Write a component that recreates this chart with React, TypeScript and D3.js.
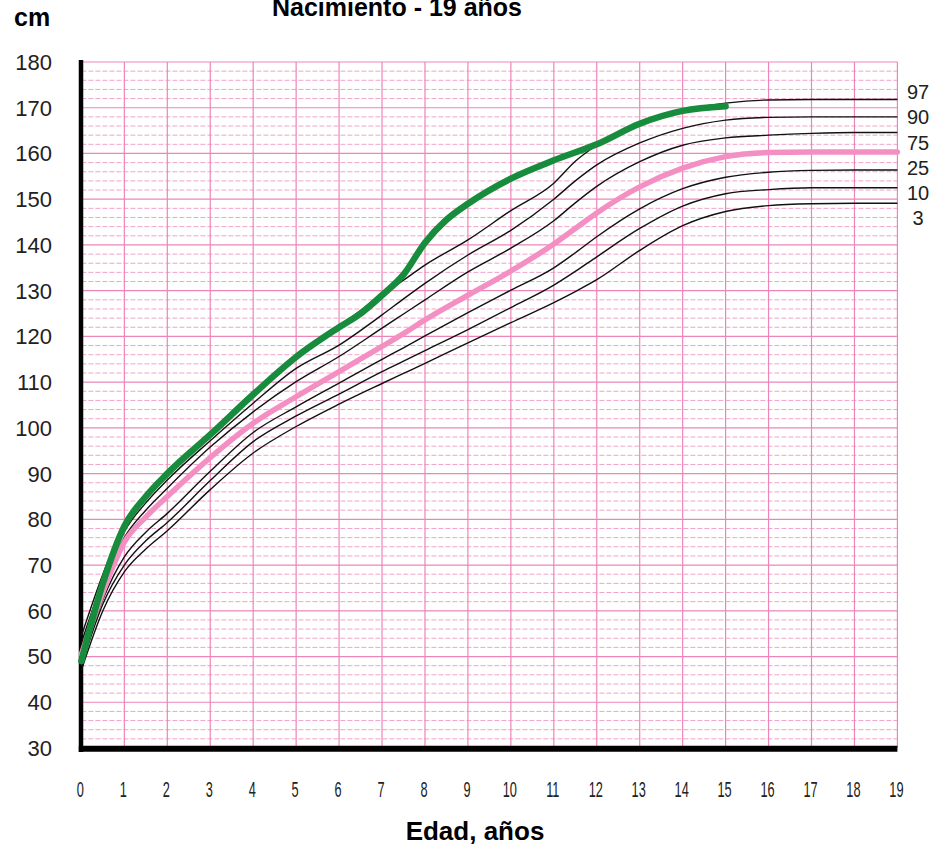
import React, { useEffect, useRef } from 'react';
import * as d3 from 'd3';

// edades (años) usadas por las curvas de percentiles
const AGES = [0, 0.5, 1, 1.5, 2, 3, 4, 5, 6, 7, 7.5, 8, 9, 10, 11, 11.5, 12, 13, 14, 15, 16, 17, 18, 19];

const P3 = [47, 60, 68.5, 73.5, 77.5, 86.5, 94.5, 100.3, 105.2, 109.7, 111.9, 114.1, 118.6, 123, 127.4, 129.8, 132.4, 138.8, 144.2, 147.3, 148.6, 149, 149.1, 149.1];
const P10 = [48, 61.5, 70, 75.3, 79.3, 88.5, 97, 102.6, 107.4, 112.3, 114.6, 116.9, 121.5, 126.3, 131.2, 134.2, 137.4, 143.6, 148.5, 151.2, 152.1, 152.5, 152.5, 152.5];
const P25 = [49, 62.5, 71.8, 77.2, 81.3, 90.5, 99, 104.6, 109.8, 115, 117.5, 120.1, 125.2, 130.1, 135, 138.3, 141.8, 147.9, 152.3, 154.8, 155.9, 156.3, 156.4, 156.4];
const P50 = [50.5, 64, 75, 80.5, 85, 93.5, 101, 106.8, 112.3, 117.8, 120.6, 123.6, 129, 134.3, 140.2, 143.6, 147, 152.7, 156.8, 159.3, 160.2, 160.3, 160.3, 160.3];
const P75 = [52, 65.5, 76, 82, 86.8, 95.8, 103.5, 110.1, 115.6, 121.8, 124.9, 128, 134.1, 139.3, 145.3, 149.2, 152.8, 158.2, 161.8, 163.4, 164, 164.4, 164.6, 164.6];
const P90 = [53, 66.5, 77.3, 83.6, 88.6, 97.2, 105.4, 113, 118.1, 124.7, 128.2, 131.6, 137.8, 143.2, 150, 154, 157.5, 162.3, 165.5, 167.3, 167.9, 168, 168, 168];
const P97 = [54.5, 68, 79, 85.5, 90.5, 99, 107.8, 115.8, 122.3, 129, 132.3, 135.6, 141.1, 147.5, 153.5, 158.3, 161.8, 166.6, 169.5, 171, 171.7, 171.8, 171.8, 171.8];

// curva de la niña
const CHILD_AGES = [0, 0.5, 1, 1.5, 2, 3, 4, 5, 6, 6.5, 7, 7.5, 8, 8.5, 9, 10, 11, 12, 13, 14, 15];
const CHILD_CM = [49, 66, 78.5, 85, 90, 98.5, 107.3, 115.5, 122, 125, 129, 133.5, 140.5, 145.5, 149, 154.5, 158.5, 162, 166.5, 169.3, 170.3];

const LABELS = ['97', '90', '75', '25', '10', '3'];
const X_TICKS = d3.range(0, 20);
const Y_TICKS = d3.range(30, 181, 10);

const W = 933;
const H = 847;
const FONT = "'Liberation Sans', Arial, sans-serif";

const GRID = '#ee85b9';
const GRID_MINOR = '#f2a3ca';
const GREEN = '#178c3c';
const PINK = '#f48fc3';

const App: React.FC = () => {
  const svgRef = useRef<SVGSVGElement>(null);

  useEffect(() => {
    document.body.style.margin = '0';
    if (!svgRef.current) return;
    const svg = d3.select(svgRef.current);
    svg.selectAll('*').remove();

    const x = d3.scaleLinear().domain([0, 19]).range([81.4, 897.4]);
    const y = d3.scaleLinear().domain([30, 180]).range([748, 62]);

    svg.append('rect').attr('width', W).attr('height', H).attr('fill', '#fff');

    // rejilla secundaria, cada 2 cm
    const minor = d3.range(32, 180, 2).filter((v) => v % 10 !== 0);
    svg
      .append('g')
      .selectAll('line')
      .data(minor)
      .join('line')
      .attr('x1', x(0))
      .attr('x2', x(19))
      .attr('y1', (d) => y(d))
      .attr('y2', (d) => y(d))
      .attr('stroke', GRID_MINOR)
      .attr('stroke-width', 1)
      .attr('stroke-dasharray', '5,2');

    // rejilla principal
    svg
      .append('g')
      .selectAll('line')
      .data(Y_TICKS)
      .join('line')
      .attr('x1', x(0))
      .attr('x2', x(19))
      .attr('y1', (d) => y(d))
      .attr('y2', (d) => y(d))
      .attr('stroke', GRID)
      .attr('stroke-width', 1.2);

    svg
      .append('g')
      .selectAll('line')
      .data(X_TICKS.slice(1))
      .join('line')
      .attr('x1', (d) => x(d))
      .attr('x2', (d) => x(d))
      .attr('y1', y(180))
      .attr('y2', y(30))
      .attr('stroke', GRID)
      .attr('stroke-width', 1.2);

    // ejes negros
    svg
      .append('line')
      .attr('x1', x(0) - 0.4)
      .attr('x2', x(0) - 0.4)
      .attr('y1', y(180) - 2)
      .attr('y2', y(30) + 4)
      .attr('stroke', '#000')
      .attr('stroke-width', 4.5);
    svg
      .append('line')
      .attr('x1', x(0) - 2.6)
      .attr('x2', x(19))
      .attr('y1', y(30) + 0.8)
      .attr('y2', y(30) + 0.8)
      .attr('stroke', '#000')
      .attr('stroke-width', 6);

    const line = d3
      .line<[number, number]>()
      .x((d) => x(d[0]))
      .y((d) => y(d[1]))
      .curve(d3.curveMonotoneX);

    const series = [P97, P90, P75, P25, P10, P3];
    svg
      .append('g')
      .selectAll('path')
      .data(series)
      .join('path')
      .attr('d', (vals) => line(AGES.map((a, i) => [a, vals[i]] as [number, number])))
      .attr('fill', 'none')
      .attr('stroke', '#111')
      .attr('stroke-width', 1.4);

    svg
      .append('path')
      .attr('d', line(AGES.map((a, i) => [a, P50[i]] as [number, number])))
      .attr('fill', 'none')
      .attr('stroke', PINK)
      .attr('stroke-width', 5.5)
      .attr('stroke-linecap', 'round');

    svg
      .append('path')
      .attr('d', line(CHILD_AGES.map((a, i) => [a, CHILD_CM[i]] as [number, number])))
      .attr('fill', 'none')
      .attr('stroke', GREEN)
      .attr('stroke-width', 6.5)
      .attr('stroke-linecap', 'round');

    // etiquetas del eje Y
    svg
      .append('g')
      .selectAll('text')
      .data(Y_TICKS)
      .join('text')
      .attr('x', 52)
      .attr('y', (d) => y(d))
      .attr('dy', '0.36em')
      .attr('text-anchor', 'end')
      .attr('font-family', FONT)
      .attr('font-size', 22)
      .attr('fill', '#222')
      .text((d) => d);

    // etiquetas del eje X (fuente estrecha)
    svg
      .append('g')
      .selectAll('text')
      .data(X_TICKS)
      .join('text')
      .attr('transform', (d) => `translate(${x(d) - 1},797) scale(0.58,1)`)
      .attr('text-anchor', 'middle')
      .attr('font-family', FONT)
      .attr('font-size', 22)
      .attr('fill', '#222')
      .text((d) => d);

    // etiquetas de percentiles
    svg
      .append('g')
      .selectAll('text')
      .data(LABELS)
      .join('text')
      .attr('x', 918)
      .attr('y', (_, i) => 92 + i * 25.2)
      .attr('dy', '0.36em')
      .attr('text-anchor', 'middle')
      .attr('font-family', FONT)
      .attr('font-size', 20)
      .attr('fill', '#222')
      .text((d) => d);

    svg
      .append('text')
      .attr('x', 397)
      .attr('y', 16)
      .attr('text-anchor', 'middle')
      .attr('font-family', FONT)
      .attr('font-weight', 'bold')
      .attr('font-size', 25)
      .text('Nacimiento - 19 años');

    svg
      .append('text')
      .attr('x', 14)
      .attr('y', 26)
      .attr('font-family', FONT)
      .attr('font-weight', 'bold')
      .attr('font-size', 25)
      .text('cm');

    svg
      .append('text')
      .attr('x', 475)
      .attr('y', 840)
      .attr('text-anchor', 'middle')
      .attr('font-family', FONT)
      .attr('font-weight', 'bold')
      .attr('font-size', 26)
      .text('Edad, años');
  }, []);

  return <svg ref={svgRef} width={W} height={H} style={{ position: 'absolute', left: 0, top: 0 }} />;
};

export default App;
